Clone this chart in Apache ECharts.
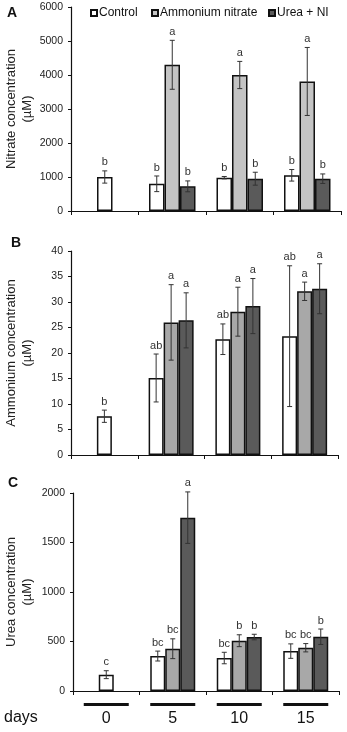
<!DOCTYPE html>
<html>
<head>
<meta charset="utf-8">
<script src="https://cdn.jsdelivr.net/npm/echarts@6/dist/echarts.min.js"></script>
<style>html,body{margin:0;padding:0;background:#fff}#c{width:347px;height:732px}</style>
</head>
<body>
<div id="c"></div>
<script>
// ---- data ----
const days = ['0', '5', '10', '15'];
const seriesNames = ['Control', 'Ammonium nitrate', 'Urea + NI'];

const nitrateControl = [1000, 800, 980, 1050];
const nitrateControlErr = [180, 230, 35, 170];
const nitrateControlSig = ['b', 'b', 'b', 'b'];
const nitrateAmmonium = [null, 4300, 4000, 3810];
const nitrateAmmoniumErr = [null, 720, 400, 1000];
const nitrateAmmoniumSig = ['', 'a', 'a', 'a'];
const nitrateUrea = [null, 725, 950, 950];
const nitrateUreaErr = [null, 160, 190, 140];
const nitrateUreaSig = ['', 'b', 'b', 'b'];

const ammoniumControl = [7.6, 15.1, 22.7, 23.3];
const ammoniumControlErr = [1.2, 4.7, 3.0, 13.8];
const ammoniumControlSig = ['b', 'ab', 'ab', 'ab'];
const ammoniumAmmonium = [null, 26.0, 28.1, 32.1];
const ammoniumAmmoniumErr = [null, 7.4, 4.8, 1.8];
const ammoniumAmmoniumSig = ['', 'a', 'a', 'a'];
const ammoniumUrea = [null, 26.4, 29.2, 32.6];
const ammoniumUreaErr = [null, 5.4, 5.4, 4.9];
const ammoniumUreaSig = ['', 'a', 'a', 'a'];

const ureaControl = [165, 353, 333, 403];
const ureaControlErr = [40, 50, 58, 73];
const ureaControlSig = ['c', 'bc', 'bc', 'bc'];
const ureaAmmonium = [null, 427, 508, 437];
const ureaAmmoniumErr = [null, 100, 60, 42];
const ureaAmmoniumSig = ['', 'bc', 'b', 'bc'];
const ureaUrea = [null, 1751, 545, 548];
const ureaUreaErr = [null, 260, 28, 78];
const ureaUreaSig = ['', 'a', 'b', 'b'];

const yTicksNitrate = {min: 0, max: 6000, interval: 1000};
const yTicksAmmonium = {min: 0, max: 40, interval: 5};
const yTicksUrea = {min: 0, max: 2000, interval: 500};

// ---- styling ----
const FONT = 'Liberation Sans, Arial, sans-serif';
const panels = [
  {grid: {left: 71, top: 7, width: 270, height: 204}, barW: 15.5, y: yTicksNitrate, name: 'Nitrate concentration\n(\u00b5M)', nameGap: 36, ammColor: '#c4c4c4',
   ctl: nitrateControl, ctlE: nitrateControlErr, ctlS: nitrateControlSig,
   amm: nitrateAmmonium, ammE: nitrateAmmoniumErr, ammS: nitrateAmmoniumSig,
   ure: nitrateUrea, ureE: nitrateUreaErr, ureS: nitrateUreaSig, showX: false},
  {grid: {left: 71, top: 251, width: 267, height: 204}, barW: 15, y: yTicksAmmonium, name: 'Ammonium concentration\n(\u00b5M)', nameGap: 36, ammColor: '#a8a8a8',
   ctl: ammoniumControl, ctlE: ammoniumControlErr, ctlS: ammoniumControlSig,
   amm: ammoniumAmmonium, ammE: ammoniumAmmoniumErr, ammS: ammoniumAmmoniumSig,
   ure: ammoniumUrea, ureE: ammoniumUreaErr, ureS: ammoniumUreaSig, showX: false},
  {grid: {left: 73, top: 493, width: 266, height: 198}, barW: 15, y: yTicksUrea, name: 'Urea concentration\n(\u00b5M)', nameGap: 38, ammColor: '#a8a8a8',
   ctl: ureaControl, ctlE: ureaControlErr, ctlS: ureaControlSig,
   amm: ureaAmmonium, ammE: ureaAmmoniumErr, ammS: ureaAmmoniumSig,
   ure: ureaUrea, ureE: ureaUreaErr, ureS: ureaUreaSig, showX: true}
];

const grids = [], xAxes = [], yAxes = [], series = [];
panels.forEach((p, k) => {
  grids.push(Object.assign({containLabel: false, outerBoundsMode: 'none'}, p.grid));
  xAxes.push({
    type: 'category', gridIndex: k, data: days, boundaryGap: true,
    axisLine: {lineStyle: {color: '#111', width: 1.2}},
    axisTick: {show: true, length: 4, lineStyle: {color: '#111'}},
    axisLabel: p.showX ? {
      margin: 12, interval: 0,
      formatter: v => '{bar|}\n{num|' + v + '}',
      rich: {
        bar: {width: 45, height: 3, backgroundColor: '#111'},
        num: {fontSize: 16, lineHeight: 26, color: '#111', fontFamily: FONT}
      }
    } : {show: false}
  });
  yAxes.push({
    type: 'value', gridIndex: k, min: p.y.min, max: p.y.max, interval: p.y.interval,
    name: p.name, nameLocation: 'middle', nameGap: p.nameGap, nameMoveOverlap: false,
    nameTextStyle: {fontSize: 13, lineHeight: 16, color: '#222', fontFamily: FONT},
    splitLine: {show: false},
    axisLine: {show: true, lineStyle: {color: '#111', width: 1.2}},
    axisTick: {show: true, length: 3, lineStyle: {color: '#111'}},
    axisLabel: {fontSize: 10.5, color: '#222', fontFamily: FONT, margin: 8, formatter: v => String(v)}
  });
  const solo = p.amm.map(v => v == null);
  const border = {borderColor: '#111', borderWidth: 1.5};
  const bw = p.barW;
  series.push({
    type: 'bar', name: seriesNames[0], xAxisIndex: k, yAxisIndex: k, barWidth: bw, barGap: '0%',
    itemStyle: Object.assign({color: '#ffffff'}, border),
    data: p.ctl.map((v, i) => solo[i] ? '-' : v)
  });
  series.push({
    type: 'bar', name: seriesNames[1], xAxisIndex: k, yAxisIndex: k, barWidth: bw, barGap: '0%',
    itemStyle: Object.assign({color: p.ammColor}, border),
    data: p.amm.map((v, i) => solo[i] ? {value: p.ctl[i], itemStyle: {color: '#ffffff'}} : v)
  });
  series.push({
    type: 'bar', name: seriesNames[2], xAxisIndex: k, yAxisIndex: k, barWidth: bw, barGap: '0%',
    itemStyle: Object.assign({color: '#5a5a5a'}, border),
    data: p.ure.map((v, i) => solo[i] ? '-' : v)
  });
  // error bars + significance letters
  const errData = [];
  const add = (vals, errs, sigs, slot) => vals.forEach((v, i) => {
    if (v == null) return;
    errData.push([i, v, errs[i], solo[i] ? 0 : slot, sigs[i]]);
  });
  add(p.ctl, p.ctlE, p.ctlS, -1);
  add(p.amm, p.ammE, p.ammS, 0);
  add(p.ure, p.ureE, p.ureS, 1);
  series.push({
    type: 'custom', name: 'err' + k, xAxisIndex: k, yAxisIndex: k, z: 10, clip: false,
    encode: {x: 0, y: 1},
    data: errData,
    renderItem: (params, api) => {
      const cat = api.value(0), val = api.value(1), err = api.value(2), slot = api.value(3);
      const sig = errData[params.dataIndex][4];
      const top = api.coord([cat, val + err]);
      const bot = api.coord([cat, val - err]);
      const x = top[0] + slot * bw;
      const cap = 2.5;
      const st = {stroke: '#333', lineWidth: 1};
      return {
        type: 'group',
        children: [
          {type: 'line', shape: {x1: x, y1: top[1], x2: x, y2: bot[1]}, style: st},
          {type: 'line', shape: {x1: x - cap, y1: top[1], x2: x + cap, y2: top[1]}, style: st},
          {type: 'line', shape: {x1: x - cap, y1: bot[1], x2: x + cap, y2: bot[1]}, style: st},
          {type: 'text', style: {text: sig, x: x, y: top[1] - 3, align: 'center', verticalAlign: 'bottom',
            fill: '#333', font: '11px ' + FONT}}
        ]
      };
    }
  });
});

const legendBase = {
  top: 7, icon: 'rect', itemWidth: 6, itemHeight: 6, padding: 0, selectedMode: false,
  textStyle: {fontSize: 12, color: '#111', fontFamily: FONT, padding: [0, 0, 0, -3]}
};
const option = {
  animation: false,
  backgroundColor: '#fff',
  textStyle: {fontFamily: FONT},
  title: [
    {text: 'A', left: 7, top: 6, textStyle: {fontSize: 14, fontWeight: 'bold', color: '#111', fontFamily: FONT}, padding: 0},
    {text: 'B', left: 11, top: 236, textStyle: {fontSize: 14, fontWeight: 'bold', color: '#111', fontFamily: FONT}, padding: 0},
    {text: 'C', left: 8, top: 476, textStyle: {fontSize: 14, fontWeight: 'bold', color: '#111', fontFamily: FONT}, padding: 0},
    {text: 'days', left: 4, top: 710, textStyle: {fontSize: 16, fontWeight: 'normal', color: '#111', fontFamily: FONT}, padding: 0}
  ],
  legend: [
    Object.assign({left: 90, data: [seriesNames[0]]}, legendBase),
    Object.assign({left: 151, data: [seriesNames[1]]}, legendBase),
    Object.assign({left: 268, data: [seriesNames[2]]}, legendBase)
  ],
  grid: grids,
  xAxis: xAxes,
  yAxis: yAxes,
  series: series
};
const chart = echarts.init(document.getElementById('c'), null, {renderer: 'canvas'});
chart.setOption(option);
</script>
</body>
</html>
